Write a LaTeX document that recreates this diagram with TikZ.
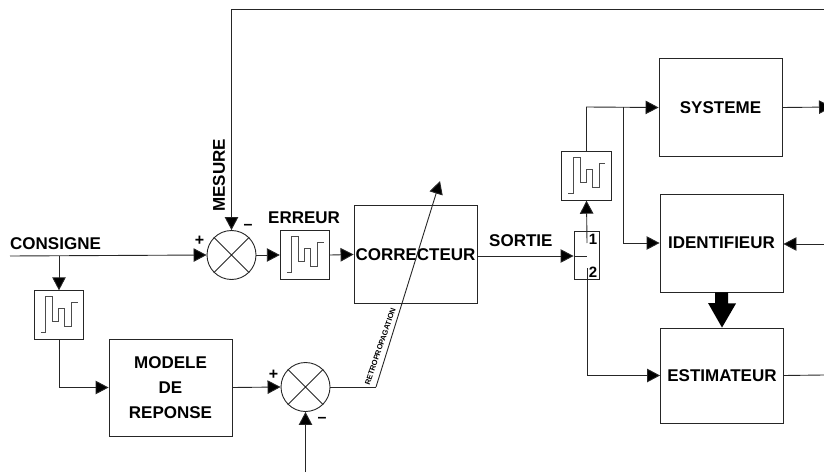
\documentclass[tikz,border=0pt]{standalone}
\usepackage{fontspec}
\setmainfont{Liberation Sans}
\usetikzlibrary{arrows.meta}
\tikzset{
  x=1pt,y=-1pt,
  ink/.style={draw=black!85,line width=0.9pt},
  wire/.style={ink,-{Triangle[length=13pt,width=13.5pt,fill=black]}},
  plainwire/.style={ink},
  blockbox/.style={ink,fill=white,rectangle,inner sep=0pt,minimum width=123pt,minimum height=98pt,font=\fontsize{17}{18}\selectfont\bfseries,align=center},
  filterbox/.style={ink,rectangle,inner sep=0pt,minimum width=49.5pt,minimum height=48.5pt},
  sumnode/.style={ink,circle,inner sep=0pt,minimum size=49pt},
  lbl/.style={inner sep=0pt,font=\fontsize{17}{18}\selectfont\bfseries},
  signlbl/.style={inner sep=0pt,font=\fontsize{16}{16}\selectfont\bfseries},
  swlbl/.style={inner sep=0pt,font=\fontsize{15}{15}\selectfont\bfseries}
}
\newcommand{\stepglyph}[1]{%
  \draw[draw=black!70,line width=0.7pt,shift={(#1.north west)}]
    (7,42) -- (12,42) -- (12,6) -- (19,6) -- (19,31) -- (25,31) -- (25,18) -- (31,18) -- (31,36) -- (38,36) -- (38,12) -- (44,12);}
\newcommand{\sumcross}[1]{%
  \draw[ink] (#1.45) -- (#1.225) (#1.135) -- (#1.315);}
\begin{document}
\begin{tikzpicture}
\clip (0,0) rectangle (824,473);
% nodes
\node[sumnode] (sum1) at (231.5,255) {};
\node[sumnode] (sum2) at (305.5,387) {};
\sumcross{sum1}
\sumcross{sum2}
\node[filterbox] (filterA) at (305,255) {};
\node[filterbox] (filterB) at (59,315) {};
\node[filterbox] (filterC) at (586.5,176) {};
\stepglyph{filterA}
\stepglyph{filterB}
\stepglyph{filterC}
\node[blockbox,minimum height=97pt] (modele) at (170.5,387.5) {MODELE\\[7pt]DE\\[7pt]REPONSE};
\node[blockbox] (correcteur) at (415.5,254.5) {CORRECTEUR};
\node[blockbox] (systeme) at (720.5,107.5) {SYSTEME};
\node[blockbox] (identifieur) at (721.5,243) {IDENTIFIEUR};
\node[blockbox,minimum height=95pt] (estimateur) at (722,375.5) {ESTIMATEUR};
\node[ink,rectangle,inner sep=0pt,minimum width=25pt,minimum height=48pt] (switch) at (586.5,255) {};
% labels
\node[lbl,anchor=west] (consigne) at (10,244) {CONSIGNE};
\node[lbl,anchor=west] (erreur) at (268,218) {ERREUR};
\node[lbl,anchor=west] (sortie) at (489,241) {SORTIE};
\node[lbl,rotate=90,anchor=west] (mesure) at (219,212) {MESURE};
\node[inner sep=0pt,rotate=71,anchor=west,font=\fontsize{7.5}{7.5}\selectfont\bfseries] (retro) at (367,385) {RETROPROPAGATION};
\node[signlbl] (p1) at (199.5,241) {+};
\node[signlbl] (m1) at (248,227) {--};
\node[signlbl] (p2) at (273.5,375) {+};
\node[signlbl] (m2) at (322,420) {--};
\node[swlbl] (one) at (593,239) {1};
\node[swlbl] (two) at (593,272) {2};
% free ends
\coordinate (cin) at (10,256);
\coordinate (branch) at (59,256);
\coordinate (topleft) at (231.5,9);
\coordinate (topright) at (824,9);
\coordinate (retroknee) at (376,387);
\coordinate (retrotip) at (440,181);
\coordinate (swmid) at (587,256);
\coordinate (sw1) at (587,243);
\coordinate (sw2) at (587,268);
\coordinate (sysknee) at (586.5,107);
\coordinate (idbranch) at (623,107);
\coordinate (bottom) at (305.5,472);
\coordinate (sysout) at (832,107);
\coordinate (idin) at (824,244);
\coordinate (estout) at (824,375);
% connectors
\draw[wire] (cin) -- (sum1.west);
\draw[wire] (branch) -- (filterB.north);
\draw[wire] (filterB.south) |- (modele.west);
\draw[wire] (topright) -- (topleft) -- (sum1.north);
\draw[wire] (sum1.east) -- (filterA.west);
\draw[wire] (filterA.east) -- (correcteur.west);
\draw[wire] (modele.east) -- (sum2.west);
\draw[wire] (bottom) -- (sum2.south);
\draw[plainwire] (sum2.east) -- (retroknee);
\draw[wire] (retroknee) -- (retrotip);
\draw[wire] (correcteur.east |- swmid) -- (switch.west |- swmid);
\draw[plainwire] (switch.west |- swmid) -- (swmid);
\draw[wire] (sw1) -- (filterC.south);
\draw[wire] (filterC.north) -- (sysknee) -- (systeme.west);
\draw[wire] (idbranch) |- (identifieur.west);
\draw[wire] (sw2) |- (estimateur.west);
\draw[wire] (systeme.east) -- (sysout);
\draw[wire] (idin) -- (identifieur.east |- idin);
\draw[plainwire] (estimateur.east) -- (estout);
\fill[black] (identifieur.south) ++(-6.5,0) -- ++(13,0) -- ++(0,11) -- ++(8,0) -- (estimateur.north) -- (708,303) -- (715,303) -- cycle;
\end{tikzpicture}
\end{document}
